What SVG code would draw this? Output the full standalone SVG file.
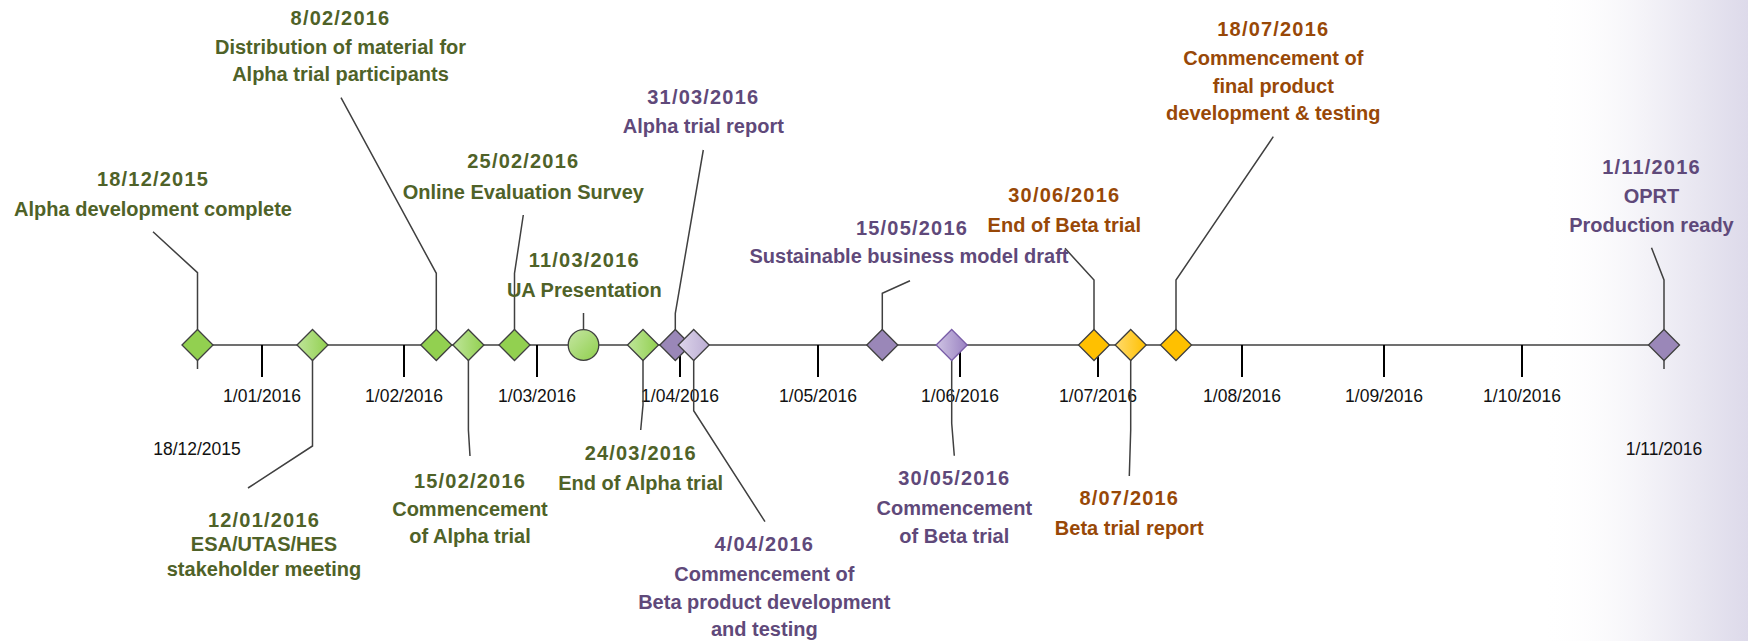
<svg xmlns="http://www.w3.org/2000/svg" width="1748" height="641" viewBox="0 0 1748 641">
<defs>
<linearGradient id="bg" x1="0" y1="0" x2="1" y2="0">
<stop offset="0" stop-color="#ffffff" stop-opacity="0"/>
<stop offset="0.5" stop-color="#f4f3f8"/>
<stop offset="1" stop-color="#dddaea"/>
</linearGradient>
<linearGradient id="gGreenL" x1="0" y1="0" x2="1" y2="0">
<stop offset="0" stop-color="#bfe59a"/>
<stop offset="1" stop-color="#92d050"/>
</linearGradient>
<linearGradient id="gCircle" x1="0" y1="0" x2="1" y2="1">
<stop offset="0" stop-color="#c6e6a4"/>
<stop offset="1" stop-color="#8fcf4c"/>
</linearGradient>
<linearGradient id="gPurpleL" x1="0" y1="0" x2="1" y2="0">
<stop offset="0" stop-color="#ddd5ea"/>
<stop offset="1" stop-color="#bcaed4"/>
</linearGradient>
<linearGradient id="gPurpleM" x1="0" y1="0" x2="1" y2="0">
<stop offset="0" stop-color="#cfc4e3"/>
<stop offset="1" stop-color="#9a82c2"/>
</linearGradient>
<linearGradient id="gOrangeL" x1="0" y1="0" x2="1" y2="0">
<stop offset="0" stop-color="#ffdb6e"/>
<stop offset="1" stop-color="#ffc000"/>
</linearGradient>
<path id="dia" d="M-15.5,0 L0,-15.5 L15.5,0 L0,15.5 Z"/>
<style>
.axis{stroke:#404040;stroke-width:1.6;fill:none}
.tick{stroke:#000;stroke-width:2;fill:none}
.lead{stroke:#404040;stroke-width:1.5;fill:none}
.tl{font-family:"Liberation Sans",Arial,sans-serif;font-size:17.5px;fill:#111;text-anchor:middle}
.lb{font-family:"Liberation Sans",Arial,sans-serif;font-size:20px;font-weight:bold;text-anchor:middle}
.dt{letter-spacing:1.2px}
.g{fill:#4f6228}
.p{fill:#5f497a}
.o{fill:#984807}
.dk{stroke:#404040;stroke-width:1.3}
.dG{fill:#92d050}
.dGL{fill:url(#gGreenL)}
.dP{fill:#9a87b8}
.dPL{fill:url(#gPurpleL)}
.dPM{fill:url(#gPurpleM);stroke:#7a5ea8}
.dO{fill:#ffc000}
.dOL{fill:url(#gOrangeL)}
</style>
</defs>
<rect x="0" y="0" width="1748" height="641" fill="#ffffff"/>
<rect x="1540" y="0" width="208" height="641" fill="url(#bg)"/>

<g id="axis">
<line class="axis" x1="197.5" y1="345" x2="1664" y2="345"/>
<line class="tick" x1="262" y1="345" x2="262" y2="377"/>
<line class="tick" x1="404" y1="345" x2="404" y2="377"/>
<line class="tick" x1="537" y1="345" x2="537" y2="377"/>
<line class="tick" x1="680" y1="345" x2="680" y2="377"/>
<line class="tick" x1="818" y1="345" x2="818" y2="377"/>
<line class="tick" x1="960" y1="345" x2="960" y2="377"/>
<line class="tick" x1="1098" y1="345" x2="1098" y2="377"/>
<line class="tick" x1="1242" y1="345" x2="1242" y2="377"/>
<line class="tick" x1="1384" y1="345" x2="1384" y2="377"/>
<line class="tick" x1="1522" y1="345" x2="1522" y2="377"/>
<text class="tl" x="262" y="402">1/01/2016</text>
<text class="tl" x="404" y="402">1/02/2016</text>
<text class="tl" x="537" y="402">1/03/2016</text>
<text class="tl" x="680" y="402">1/04/2016</text>
<text class="tl" x="818" y="402">1/05/2016</text>
<text class="tl" x="960" y="402">1/06/2016</text>
<text class="tl" x="1098" y="402">1/07/2016</text>
<text class="tl" x="1242" y="402">1/08/2016</text>
<text class="tl" x="1384" y="402">1/09/2016</text>
<text class="tl" x="1522" y="402">1/10/2016</text>
<text class="tl" x="197" y="455">18/12/2015</text>
<text class="tl" x="1664" y="455">1/11/2016</text>
</g>

<g id="connectors">
<path class="lead" d="M197.5,345 V272.7 L153,231.7"/>
<path class="lead" d="M197.5,345 V369"/>
<path class="lead" d="M312.5,345 V446 L248,488"/>
<path class="lead" d="M436.3,345 V273.3 L341,97.7"/>
<path class="lead" d="M468.4,345 V430 L470,456"/>
<path class="lead" d="M514.5,345 V273.3 L523.3,215"/>
<path class="lead" d="M583.5,330 V313"/>
<path class="lead" d="M643,345 V405 L640.7,430"/>
<path class="lead" d="M675.3,345 V313.3 L703.3,150"/>
<path class="lead" d="M693.7,345 V410.7 L765,521.7"/>
<path class="lead" d="M882.3,345 V293.3 L910,280.7"/>
<path class="lead" d="M951.7,345 V423.3 L954.3,455.7"/>
<path class="lead" d="M1094,345 V280 L1065,248.3"/>
<path class="lead" d="M1130.7,345 V430 L1129.3,476"/>
<path class="lead" d="M1176,345 V280 L1273.3,136.7"/>
<path class="lead" d="M1664,345 V280 L1651.5,247.7"/>
<path class="lead" d="M1664,345 V369"/>
</g>

<g id="m-20151218">
<use href="#dia" x="197.5" y="345" class="dk dG"/>
<text class="lb g dt" x="153" y="185.7">18/12/2015</text>
<text class="lb g" x="153" y="215.7">Alpha development complete</text>
</g>

<g id="m-20160112">
<use href="#dia" x="312.5" y="345" class="dk dGL"/>
<text class="lb g dt" x="264" y="527">12/01/2016</text>
<text class="lb g" x="264" y="551">ESA/UTAS/HES</text>
<text class="lb g" x="264" y="576">stakeholder meeting</text>
</g>

<g id="m-20160208">
<use href="#dia" x="436.3" y="345" class="dk dG"/>
<text class="lb g dt" x="340.5" y="25">8/02/2016</text>
<text class="lb g" x="340.5" y="54">Distribution of material for</text>
<text class="lb g" x="340.5" y="81">Alpha trial participants</text>
</g>

<g id="m-20160215">
<use href="#dia" x="468.4" y="345" class="dk dGL"/>
<text class="lb g dt" x="470" y="488">15/02/2016</text>
<text class="lb g" x="470" y="516">Commencement</text>
<text class="lb g" x="470" y="543">of Alpha trial</text>
</g>

<g id="m-20160225">
<use href="#dia" x="514.5" y="345" class="dk dG"/>
<text class="lb g dt" x="523.3" y="168.3">25/02/2016</text>
<text class="lb g" x="523.3" y="199.3">Online Evaluation Survey</text>
</g>

<g id="m-20160311">
<circle cx="583.5" cy="345" r="15.3" fill="url(#gCircle)" class="dk"/>
<text class="lb g dt" x="584.3" y="266.7">11/03/2016</text>
<text class="lb g" x="584.3" y="296.7">UA Presentation</text>
</g>

<g id="m-20160324">
<use href="#dia" x="643" y="345" class="dk dGL"/>
<text class="lb g dt" x="640.7" y="460">24/03/2016</text>
<text class="lb g" x="640.7" y="490">End of Alpha trial</text>
</g>

<g id="m-20160331">
<use href="#dia" x="675.3" y="345" class="dk dP"/>
<text class="lb p dt" x="703.3" y="104">31/03/2016</text>
<text class="lb p" x="703.3" y="133.3">Alpha trial report</text>
</g>

<g id="m-20160404">
<use href="#dia" x="693.7" y="345" class="dk dPL"/>
<text class="lb p dt" x="764.3" y="550.7">4/04/2016</text>
<text class="lb p" x="764.3" y="581">Commencement of</text>
<text class="lb p" x="764.3" y="609.3">Beta product development</text>
<text class="lb p" x="764.3" y="636">and testing</text>
</g>

<g id="m-20160515">
<use href="#dia" x="882.3" y="345" class="dk dP"/>
<text class="lb p dt" x="912" y="235">15/05/2016</text>
<text class="lb p" x="909" y="263.3">Sustainable business model draft</text>
</g>

<g id="m-20160530">
<use href="#dia" x="951.7" y="345" class="dk dPM"/>
<text class="lb p dt" x="954.3" y="485">30/05/2016</text>
<text class="lb p" x="954.3" y="515">Commencement</text>
<text class="lb p" x="954.3" y="543.3">of Beta trial</text>
</g>

<g id="m-20160630">
<use href="#dia" x="1094" y="345" class="dk dO"/>
<text class="lb o dt" x="1064.3" y="201.7">30/06/2016</text>
<text class="lb o" x="1064.3" y="231.7">End of Beta trial</text>
</g>

<g id="m-20160708">
<use href="#dia" x="1130.7" y="345" class="dk dOL"/>
<text class="lb o dt" x="1129.3" y="505">8/07/2016</text>
<text class="lb o" x="1129.3" y="535">Beta trial report</text>
</g>

<g id="m-20160718">
<use href="#dia" x="1176" y="345" class="dk dO"/>
<text class="lb o dt" x="1273.3" y="35.7">18/07/2016</text>
<text class="lb o" x="1273.3" y="65">Commencement of</text>
<text class="lb o" x="1273.3" y="93.3">final product</text>
<text class="lb o" x="1273.3" y="120">development &amp; testing</text>
</g>

<g id="m-20161101">
<use href="#dia" x="1664" y="345" class="dk dP"/>
<text class="lb p dt" x="1651.5" y="174">1/11/2016</text>
<text class="lb p" x="1651.5" y="203.3">OPRT</text>
<text class="lb p" x="1651.5" y="231.7">Production ready</text>
</g>
</svg>
